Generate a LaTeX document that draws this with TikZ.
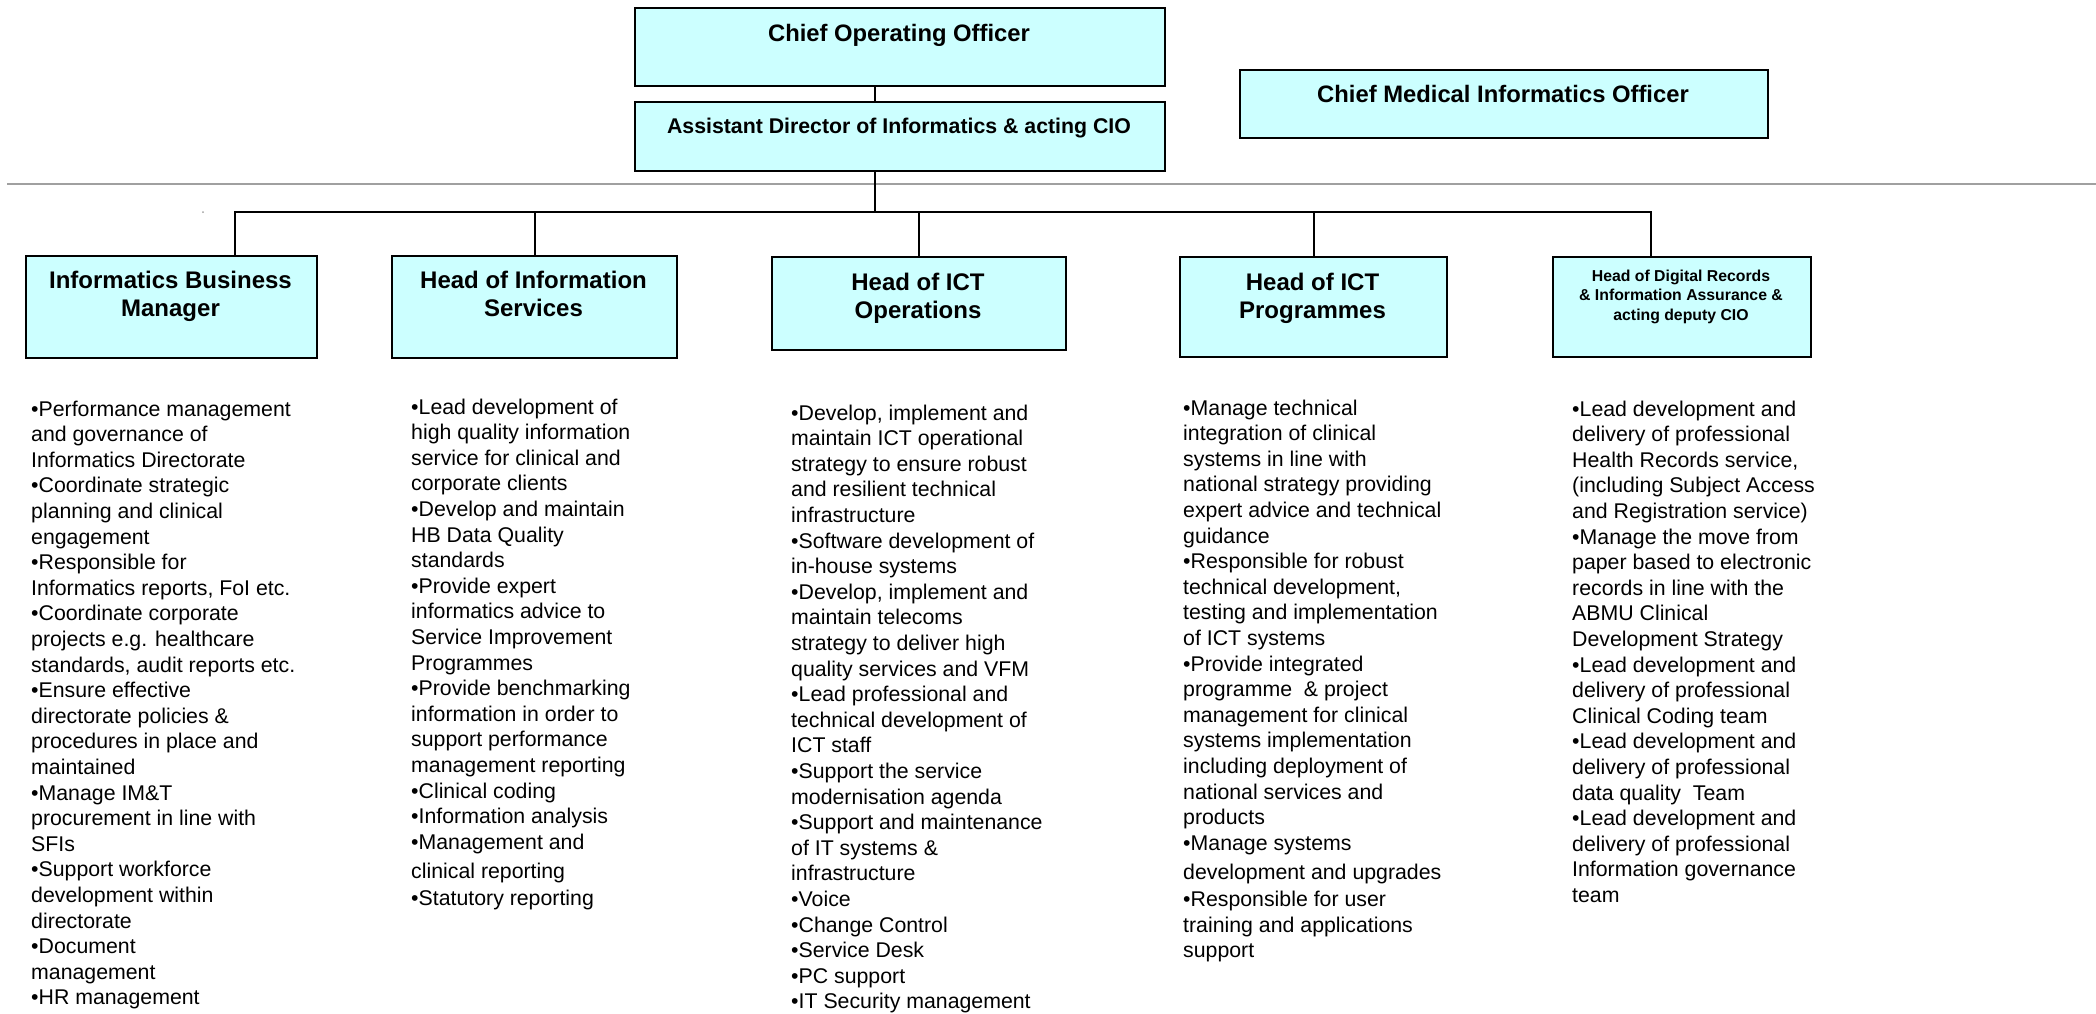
\documentclass[tikz,border=0pt]{standalone}
\usepackage{fontspec}
\setmainfont{Liberation Sans}
\definecolor{boxcyan}{RGB}{204,255,255}
\definecolor{rulegray}{RGB}{160,160,160}
\begin{document}
\begin{tikzpicture}[x=1pt,y=-1pt,
  box/.style={draw=black,line width=2pt,fill=boxcyan,inner sep=0pt,anchor=north west},
  conn/.style={draw=black,line width=2pt},
  seprule/.style={draw=rulegray,line width=2pt},
  titleL/.style={font=\fontsize{23.8}{28}\selectfont\bfseries,inner sep=0pt,anchor=base},
  titleM/.style={font=\fontsize{21.3}{25}\selectfont\bfseries,inner sep=0pt,anchor=base},
  headB/.style={font=\fontsize{24}{28}\selectfont\bfseries,inner sep=0pt,anchor=north,align=center},
  headS/.style={font=\fontsize{15.8}{19.5}\selectfont\bfseries,inner sep=0pt,anchor=north,align=center},
  duty/.style={font=\fontsize{21.3}{25.6}\selectfont,inner sep=0pt,anchor=north west,align=left}]
\useasboundingbox (0,0) rectangle (2096,1013);

% separator rule
\coordinate (gl) at (7,184);
\coordinate (gr) at (2096,184);
\draw[seprule] (gl) -- (gr);
\fill[rulegray] (203,212) circle (1);

% top boxes
\node[box,minimum width=530,minimum height=78] (coo) at (634,7) {};
\node[box,minimum width=530,minimum height=69] (ad) at (634,101) {};
\node[box,minimum width=528,minimum height=68] (cmio) at (1239,69) {};
\node[titleL] (cooT) at (899,41) {Chief Operating Officer};
\node[titleM] (adT) at (899,133) {Assistant Director of Informatics \& acting CIO};
\node[titleL] (cmioT) at (1503,102) {Chief Medical Informatics Officer};

% second row boxes
\node[box,minimum width=291,minimum height=102] (b1) at (25,255) {};
\node[box,minimum width=285,minimum height=102] (b2) at (391,255) {};
\node[box,minimum width=294,minimum height=93] (b3) at (771,256) {};
\node[box,minimum width=267,minimum height=100] (b4) at (1179,256) {};
\node[box,minimum width=258,minimum height=100] (b5) at (1552,256) {};

\node[headB] (b1T) at (170.5,268.4) {\strut Informatics Business\\Manager};
\node[headB] (b2T) at (533.5,268.4) {\strut Head of Information\\Services};
\node[headB] (b3T) at (918,270.4) {\strut Head of ICT\\Operations};
\node[headB] (b4T) at (1312.5,270.4) {\strut Head of ICT\\Programmes};
\node[headS] (b5T) at (1681,267.4) {\strut Head of Digital Records\\\& Information Assurance \&\\acting deputy CIO};

% connectors
\coordinate (j0) at (875,212);
\coordinate (hl) at (235,212);
\coordinate (hr) at (1651,212);
\draw[conn] (j0 |- coo.south) -- (j0 |- ad.north);
\draw[conn] (j0 |- ad.south) -- (j0);
\draw[conn] (hl |- b1.north) -- (hl) -- (hr) -- (hr |- b5.north);
\draw[conn] (b2.north |- hl) -- (b2.north);
\draw[conn] (b3.north |- hl) -- (b3.north);
\draw[conn] (b4.north |- hl) -- (b4.north);

% duty lists
\node[duty] (d1) at (31,398) {\strut •Performance management\\
and governance of\\
Informatics Directorate\\
•Coordinate strategic\\
planning and clinical\\
engagement\\
•Responsible for\\
Informatics reports, FoI etc.\\
•Coordinate corporate\\
projects e.g. healthcare\\
standards, audit reports etc.\\
•Ensure effective\\
directorate policies \&\\
procedures in place and\\
maintained\\
•Manage IM\&T\\
procurement in line with\\
SFIs\\
•Support workforce\\
development within\\
directorate\\
•Document\\
management\\
•HR management};

\node[duty] (d2) at (411,396) {\strut •Lead development of\\
high quality information\\
service for clinical and\\
corporate clients\\
•Develop and maintain\\
HB Data Quality\\
standards\\
•Provide expert\\
informatics advice to\\
Service Improvement\\
Programmes\\
•Provide benchmarking\\
information in order to\\
support performance\\
management reporting\\
•Clinical coding\\
•Information analysis\\
•Management and\\[4pt]
clinical reporting\\[1pt]
•Statutory reporting};

\node[duty] (d3) at (791,402) {\strut •Develop, implement and\\
maintain ICT operational\\
strategy to ensure robust\\
and resilient technical\\
infrastructure\\
•Software development of\\
in-house systems\\
•Develop, implement and\\
maintain telecoms\\
strategy to deliver high\\
quality services and VFM\\
•Lead professional and\\
technical development of\\
ICT staff\\
•Support the service\\
modernisation agenda\\
•Support and maintenance\\
of IT systems \&\\
infrastructure\\
•Voice\\
•Change Control\\
•Service Desk\\
•PC support\\
•IT Security management};

\node[duty] (d4) at (1183,397) {\strut •Manage technical\\
integration of clinical\\
systems in line with\\
national strategy providing\\
expert advice and technical\\
guidance\\
•Responsible for robust\\
technical development,\\
testing and implementation\\
of ICT systems\\
•Provide integrated\\
programme\ \ \& project\\
management for clinical\\
systems implementation\\
including deployment of\\
national services and\\
products\\
•Manage systems\\[4pt]
development and upgrades\\[1pt]
•Responsible for user\\
training and applications\\
support};

\node[duty] (d5) at (1572,398) {\strut •Lead development and\\
delivery of professional\\
Health Records service,\\
(including Subject Access\\
and Registration service)\\
•Manage the move from\\
paper based to electronic\\
records in line with the\\
ABMU Clinical\\
Development Strategy\\
•Lead development and\\
delivery of professional\\
Clinical Coding team\\
•Lead development and\\
delivery of professional\\
data quality\ \ Team\\
•Lead development and\\
delivery of professional\\
Information governance\\
team};
\end{tikzpicture}
\end{document}
